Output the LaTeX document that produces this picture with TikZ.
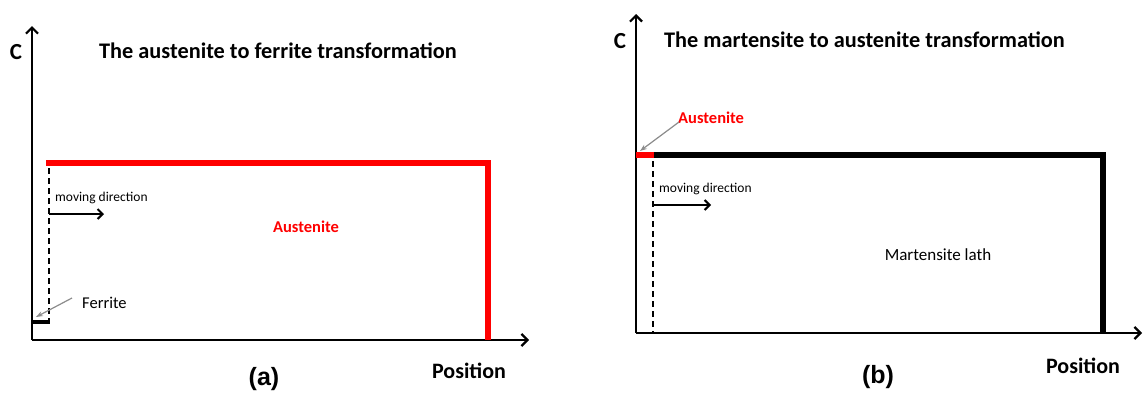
\documentclass[tikz,border=0pt]{standalone}
\usepackage{fontspec}
\setmainfont{Carlito}
\newfontfamily\arialfont{Liberation Sans}
\usetikzlibrary{arrows.meta}
\definecolor{profred}{RGB}{255,0,0}
\definecolor{pointgray}{RGB}{140,140,140}
\begin{document}
\begin{tikzpicture}[x=1pt,y=-1pt,
  axisline/.style={line width=2.8pt,-{Straight Barb[length=6pt,width=12pt,line width=2.2pt]}},
  profline/.style={line width=5.8pt},
  dashline/.style={line width=2.7pt,dash pattern=on 6pt off 4pt},
  movearrow/.style={line width=2.4pt,-{Straight Barb[length=5pt,width=10pt,line width=2pt]}},
  pointer/.style={pointgray,line width=1.2pt,-{Stealth[length=7pt,width=5pt]}},
  bigtext/.style={font=\fontsize{22.3}{25}\selectfont\bfseries,inner sep=0pt},
  labtext/.style={font=\fontsize{16.5}{19}\selectfont,inner sep=0pt},
  redtext/.style={font=\fontsize{16.5}{19}\selectfont\bfseries,text=profred,inner sep=0pt},
  smalltext/.style={font=\fontsize{13.5}{15}\selectfont,inner sep=0pt},
  postext/.style={font=\fontsize{22}{25}\selectfont\bfseries,inner sep=0pt},
  paneltext/.style={font=\arialfont\fontsize{25}{28}\selectfont\bfseries,inner sep=0pt}]
\useasboundingbox[fill=white] (0,0) rectangle (1143,394);

% ---------- panel (a) ----------
\coordinate (aO) at (32,340);
\coordinate (aY) at (32,26);
\coordinate (aX) at (529,340);
\draw[axisline] (aO) -- (aY);
\draw[axisline] (aO) -- (aX);
\node[bigtext,font=\fontsize{23}{26}\selectfont\bfseries] (aC) at (16,52) {C};
\node[bigtext,anchor=west] (aTitle) at (99,51) {The austenite to ferrite transformation};
% austenite profile
\coordinate (aR1) at (46,163);
\coordinate (aR2) at (488,163);
\coordinate (aR3) at (488,340);
\draw[profline,profred] (aR1) -- (aR2) -- (aR3);
% ferrite step
\coordinate (aF1) at (32,322);
\coordinate (aF2) at (50,322);
\draw[line width=4.8pt] (aF1) -- (aF2);
% interface
\coordinate (aD1) at (49,168);
\coordinate (aD2) at (49,320);
\draw[dashline] (aD1) -- (aD2);
\node[smalltext,anchor=west] (aMove) at (55,198) {moving direction};
\coordinate (aM1) at (49,214);
\coordinate (aM2) at (104,214);
\draw[movearrow] (aM1) -- (aM2);
\node[redtext] (aAus) at (306,227) {Austenite};
\node[labtext,anchor=west] (aFer) at (82,303) {Ferrite};
\coordinate (aP1) at (72,298);
\coordinate (aP2) at (36,317);
\draw[pointer] (aP1) -- (aP2);
\node[postext] (aPos) at (469,371) {Position};
\node[paneltext] (aLab) at (264,379) {(a)};

% ---------- panel (b) ----------
\coordinate (bO) at (636,333);
\coordinate (bY) at (636,14);
\coordinate (bX) at (1142,333);
\draw[axisline] (bO) -- (bY);
\draw[axisline] (bO) -- (bX);
\node[bigtext,font=\fontsize{23}{26}\selectfont\bfseries] (bC) at (620,41) {C};
\node[bigtext,anchor=west] (bTitle) at (664,40) {The martensite to austenite transformation};
% martensite profile
\coordinate (bK1) at (652,155);
\coordinate (bK2) at (1103,155);
\coordinate (bK3) at (1103,333);
\draw[profline] (bK1) -- (bK2) -- (bK3);
% austenite layer
\coordinate (bA1) at (636,155);
\coordinate (bA2) at (654,155);
\draw[profline,profred,line cap=butt] (bA1) -- (bA2);
% interface
\coordinate (bD1) at (653,161);
\coordinate (bD2) at (653,333);
\draw[dashline] (bD1) -- (bD2);
\node[smalltext,anchor=west] (bMove) at (659,189) {moving direction};
\coordinate (bM1) at (653,205);
\coordinate (bM2) at (711,205);
\draw[movearrow] (bM1) -- (bM2);
\node[redtext,anchor=west] (bAus) at (678,118) {Austenite};
\coordinate (bP1) at (679,122);
\coordinate (bP2) at (640,151);
\draw[pointer] (bP1) -- (bP2);
\node[labtext,font=\fontsize{17}{20}\selectfont] (bMart) at (938,255) {Martensite lath};
\node[postext] (bPos) at (1083,366) {Position};
\node[paneltext] (bLab) at (878,377) {(b)};
\end{tikzpicture}
\end{document}
